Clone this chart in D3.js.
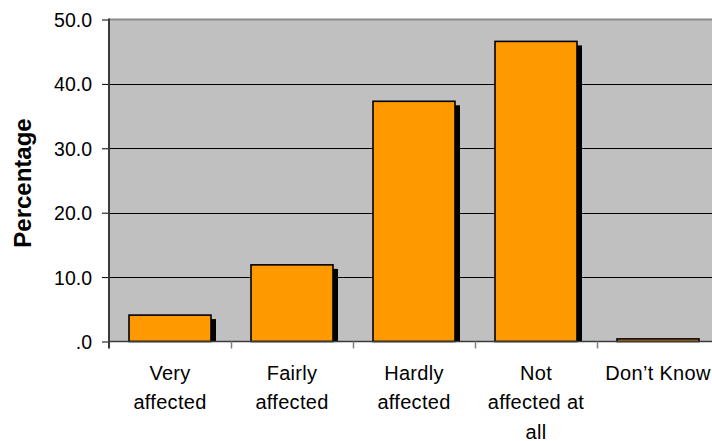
<!DOCTYPE html>
<html>
<head>
<meta charset="utf-8">
<script src="https://cdn.jsdelivr.net/npm/d3@7"></script>
<style>
  html, body { margin: 0; padding: 0; background: #fff; }
  svg { display: block; }
  text { font-family: "Liberation Sans", Arial, sans-serif; fill: #000; }
</style>
</head>
<body>
<script>
// 数据
const categories = ['Very affected', 'Fairly affected', 'Hardly affected', 'Not affected at all', 'Don’t Know']
const catLines = [['Very', 'affected'], ['Fairly', 'affected'], ['Hardly', 'affected'], ['Not', 'affected at', 'all'], ['Don’t Know']]
const values = [4.1, 11.9, 37.3, 46.6, 0.4]
const yTicks = [0, 10, 20, 30, 40, 50]
const yTickLabels = ['.0', '10.0', '20.0', '30.0', '40.0', '50.0']

const W = 712, H = 441
const plot = {left: 109, right: 719, top: 19.5, bottom: 341.5}

const svg = d3.select('body')
  .append('svg')
  .attr('width', W)
  .attr('height', H)

const x = d3.scaleBand()
  .domain(categories)
  .range([plot.left, plot.right])
  .paddingInner(0.328)
  .paddingOuter(0.164)

const y = d3.scaleLinear()
  .domain([0, 50])
  .range([plot.bottom, plot.top])

// 背景
svg.append('rect')
  .attr('x', plot.left)
  .attr('y', plot.top)
  .attr('width', plot.right - plot.left)
  .attr('height', plot.bottom - plot.top)
  .attr('fill', '#c0c0c0')

// 网格线
svg.append('g')
  .selectAll('line')
  .data(yTicks.filter(d => d > 0 && d < 50))
  .enter()
  .append('line')
  .attr('x1', plot.left)
  .attr('x2', plot.right)
  .attr('y1', d => Math.round(y(d)) + 0.5)
  .attr('y2', d => Math.round(y(d)) + 0.5)
  .attr('stroke', '#000')
  .attr('stroke-width', 1)

// 上边框
svg.append('line')
  .attr('x1', plot.left)
  .attr('x2', plot.right)
  .attr('y1', y(50))
  .attr('y2', y(50))
  .attr('stroke', '#8c8c8c')
  .attr('stroke-width', 2)

// 阴影
const shadow = {dx: 5, dy: 4}
svg.append('g')
  .selectAll('rect')
  .data(values)
  .enter()
  .append('rect')
  .attr('x', (d, i) => x(categories[i]) + shadow.dx)
  .attr('y', d => Math.min(y(d) + shadow.dy, plot.bottom))
  .attr('width', x.bandwidth())
  .attr('height', d => Math.max(0, plot.bottom - y(d) - shadow.dy))
  .attr('fill', '#000')

// 柱子
svg.append('g')
  .selectAll('rect')
  .data(values)
  .enter()
  .append('rect')
  .attr('x', (d, i) => x(categories[i]))
  .attr('y', d => y(d))
  .attr('width', x.bandwidth())
  .attr('height', d => plot.bottom - y(d))
  .attr('fill', '#ff9900')
  .attr('stroke', '#000')
  .attr('stroke-width', 1.6)

// y轴
const yAxis = svg.append('g')
  .attr('transform', `translate(${plot.left},0)`)
  .call(d3.axisLeft(y)
    .tickValues(yTicks)
    .tickSize(7)
    .tickPadding(10)
    .tickFormat((d, i) => yTickLabels[i]))
yAxis.select('.domain').remove()
yAxis.selectAll('line').attr('stroke', '#000')
yAxis.selectAll('text')
  .style('font-family', '"Liberation Sans", Arial, sans-serif')
  .style('font-size', '19.5px')
  .attr('dy', '0.36em')

svg.append('line')
  .attr('x1', plot.left)
  .attr('x2', plot.left)
  .attr('y1', plot.top - 1)
  .attr('y2', plot.bottom + 7)
  .attr('stroke', '#3a3a3a')
  .attr('stroke-width', 2)

// x轴
const step = x.step()
svg.append('line')
  .attr('x1', plot.left)
  .attr('x2', plot.right)
  .attr('y1', plot.bottom)
  .attr('y2', plot.bottom)
  .attr('stroke', '#3a3a3a')
  .attr('stroke-width', 1.5)

svg.append('g')
  .selectAll('line')
  .data(categories.slice(1))
  .enter()
  .append('line')
  .attr('x1', d => Math.round(x(d) - step * x.paddingInner() / 2) + 0.5)
  .attr('x2', d => Math.round(x(d) - step * x.paddingInner() / 2) + 0.5)
  .attr('y1', plot.bottom)
  .attr('y2', plot.bottom + 7)
  .attr('stroke', '#808080')
  .attr('stroke-width', 1.5)

const labels = svg.append('g')
  .selectAll('text')
  .data(categories)
  .enter()
  .append('text')
  .attr('x', d => x(d) + x.bandwidth() / 2)
  .attr('y', 379.5)
  .attr('text-anchor', 'middle')
  .style('font-size', '20px')
  .style('letter-spacing', '0.3px')

labels.selectAll('tspan')
  .data((d, i) => catLines[i])
  .enter()
  .append('tspan')
  .attr('x', function() { return d3.select(this.parentNode).attr('x') })
  .attr('dy', (d, i) => i === 0 ? 0 : 29.5)
  .text(d => d)

// y轴标题
svg.append('text')
  .attr('transform', `translate(31,${(116 + 250) / 2}) rotate(-90)`)
  .attr('text-anchor', 'middle')
  .style('font-size', '24px')
  .style('font-weight', 'bold')
  .text('Percentage')
</script>
</body>
</html>
